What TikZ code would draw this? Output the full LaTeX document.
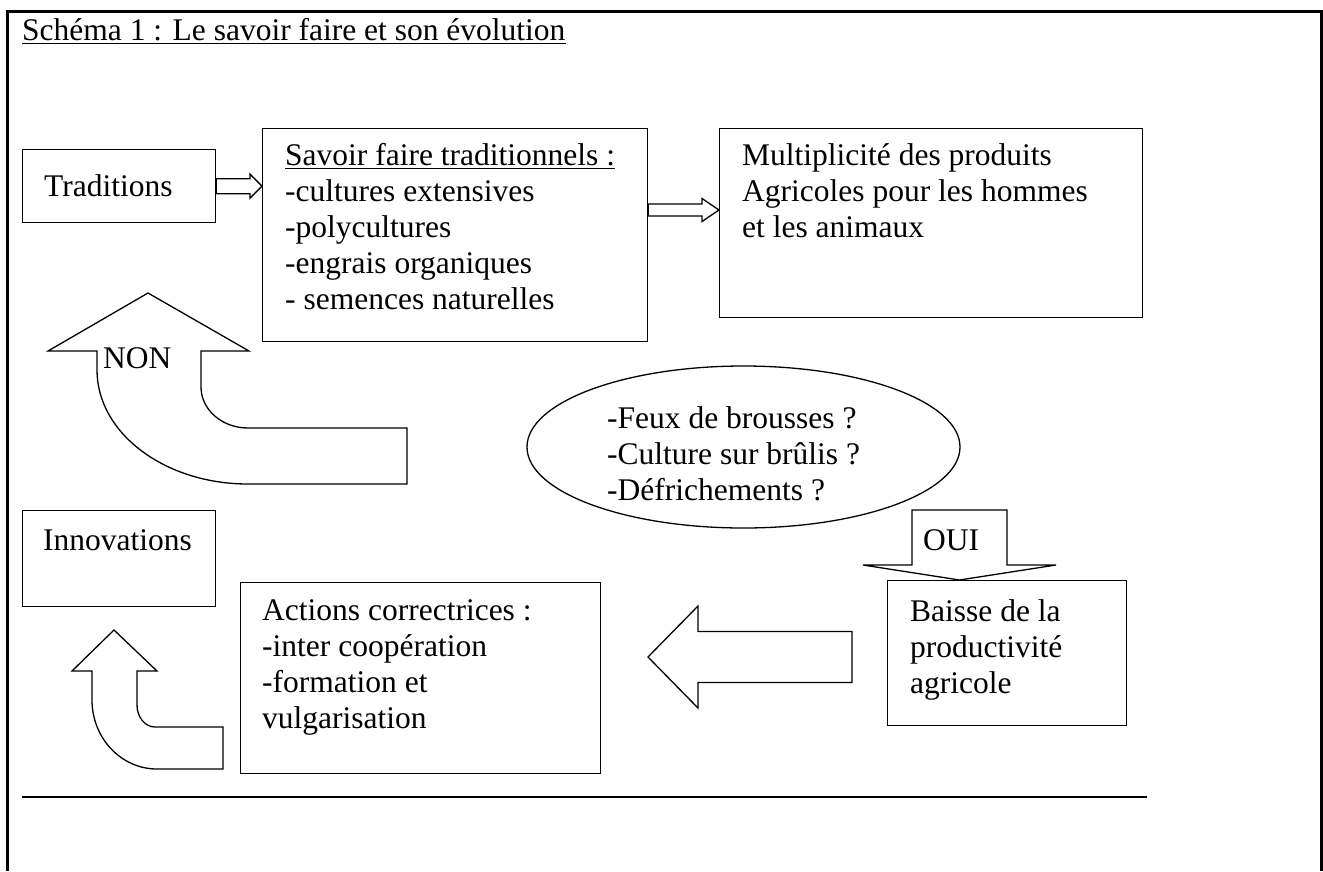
\documentclass[tikz,border=0pt]{standalone}
\usepackage{fontspec}
\setmainfont{Liberation Serif}
\usetikzlibrary{calc,shapes.geometric}
\newcommand{\mylines}[1]{\begin{tabular}[t]{@{}l@{}}#1\end{tabular}}
\newcommand{\blockarrow}[5]{%
  \coordinate (ba-h) at ($(#2)!#5!(#1)$);
  \draw[blk] ($(#1)!#3!90:(#2)$) -- ($(ba-h)!#3!90:(#2)$) -- ($(ba-h)!#4!90:(#2)$) -- (#2)
    -- ($(ba-h)!#4!-90:(#2)$) -- ($(ba-h)!#3!-90:(#2)$) -- ($(#1)!#3!-90:(#2)$) -- cycle;}
\begin{document}
\begin{tikzpicture}[x=1pt,y=-1pt,
  box/.style={draw, line width=1.3pt, inner sep=0pt, anchor=north west},
  txt/.style={inner sep=0pt, anchor=base west, font=\fontsize{31.5}{36}\selectfont},
  blk/.style={draw, line width=1.3pt, fill=white, line join=miter},
  uline/.style={line width=1.5pt},
  frame/.style={line width=3pt}]
\useasboundingbox (0,0) rectangle (1323,871);
% frame
\draw[frame] (7,871) -- (7,11) -- (1321,11) -- (1321,871);
\draw[line width=2pt] (22,797) -- (1147,797);
% title
\node[txt] (title) at (22,40) {Schéma 1 : Le savoir faire et son évolution};
\draw[uline] ($(title.base west)+(0,3.5)$) -- ($(title.base east)+(0,3.5)$);
% boxes
\node[box, minimum width=193pt, minimum height=73pt] (trad) at (22,149) {};
\node[box, minimum width=385pt, minimum height=213pt] (savoir) at (262,128) {};
\node[box, minimum width=423pt, minimum height=189pt] (multi) at (719,128) {};
\node[box, minimum width=193pt, minimum height=96pt] (innov) at (22,510) {};
\node[box, minimum width=360pt, minimum height=191pt] (actions) at (240,582) {};
\node[box, minimum width=239pt, minimum height=145pt] (baisse) at (887,580) {};
\node[draw, ellipse, line width=1.3pt, inner sep=0pt, minimum width=433pt, minimum height=162pt] (quest) at (743.5,447) {};
% texts
\node[txt] (tradtxt) at (44,196) {Traditions};
\node[txt] (savoirhead) at (285,165) {Savoir faire traditionnels :};
\draw[uline] ($(savoirhead.base west)+(0,3.5)$) -- ($(savoirhead.base east)+(0,3.5)$);
\node[txt] (savoirtxt) at (285,201) {\mylines{-cultures extensives\\-polycultures\\-engrais organiques\\- semences naturelles}};
\node[txt] (multitxt) at (742,165) {\mylines{Multiplicité des produits\\Agricoles pour les hommes\\et les animaux}};
\node[txt] (questtxt) at (607,428) {\mylines{-Feux de brousses ?\\-Culture sur brûlis ?\\-Défrichements ?}};
\node[txt] (innovtxt) at (43,550) {Innovations};
\node[txt] (actionstxt) at (262,620) {\mylines{Actions correctrices :\\-inter coopération\\-formation et\\vulgarisation}};
\node[txt] (baissetxt) at (910,621) {\mylines{Baisse de la\\productivité\\agricole}};
% straight block arrows
\coordinate (a1t) at (trad.east);
\coordinate (a1h) at (savoir.west |- trad.east);
\blockarrow{a1t}{a1h}{7.5pt}{12pt}{12pt}
\coordinate (a2t) at (savoir.east |- 0,210);
\coordinate (a2h) at (multi.west |- 0,210);
\blockarrow{a2t}{a2h}{6pt}{11.5pt}{17pt}
\coordinate (a3t) at (852,657);
\coordinate (a3h) at (648,657);
\blockarrow{a3t}{a3h}{25.5pt}{51pt}{50pt}
\coordinate (ouit) at (959.5,510);
\coordinate (ouih) at (ouit |- baisse.north);
\blockarrow{ouit}{ouih}{47.5pt}{96.5pt}{15pt}
\node[txt] (ouitxt) at (923,550) {OUI};
% curved arrow NON
\draw[blk] (148,293) -- (249,351) -- (201,351) -- (201,387)
  arc[start angle=180, end angle=270, x radius=47pt, y radius=41pt]
  -- (407,428) -- (407,484) -- (248,484)
  arc[start angle=270, end angle=180, x radius=151pt, y radius=114pt]
  -- (97,351) -- (48,351) -- cycle;
\node[txt] (nontxt) at (103,368) {NON};
% small curved arrow
\draw[blk] (114,630) -- (157,671) -- (137,671) -- (137,705)
  arc[start angle=180, end angle=270, x radius=18pt, y radius=22pt]
  -- (223,727) -- (223,769) -- (157,769)
  arc[start angle=270, end angle=180, x radius=65pt, y radius=69pt]
  -- (92,671) -- (72,671) -- cycle;
\end{tikzpicture}
\end{document}
